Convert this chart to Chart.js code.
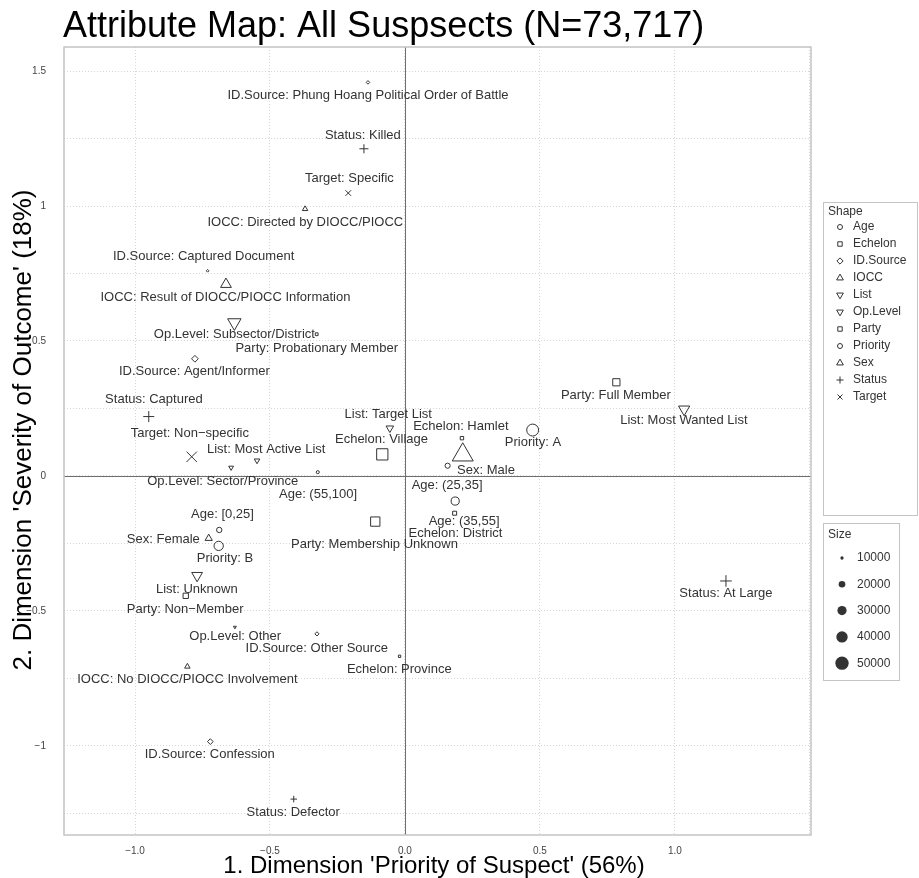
<!DOCTYPE html>
<html>
<head>
<meta charset="utf-8">
<script src="https://cdn.jsdelivr.net/npm/chart.js@4.4.1/dist/chart.umd.min.js"></script>
<style>
  body { margin: 0; background: #fff; }
  canvas { display: block; }
</style>
</head>
<body>
<canvas id="mapChart" width="919" height="878"></canvas>
<script>
// categories (one entry per attribute level)
var categories = [
    'Age: [0,25]', 'Age: (25,35]', 'Age: (35,55]', 'Age: (55,100]',
    'Echelon: Village', 'Echelon: Hamlet', 'Echelon: District', 'Echelon: Province',
    'ID.Source: Phung Hoang Political Order of Battle', 'ID.Source: Captured Document',
    'ID.Source: Agent/Informer', 'ID.Source: Other Source', 'ID.Source: Confession',
    'IOCC: Directed by DIOCC/PIOCC', 'IOCC: Result of DIOCC/PIOCC Information',
    'IOCC: No DIOCC/PIOCC Involvement',
    'List: Most Active List', 'List: Target List', 'List: Most Wanted List', 'List: Unknown',
    'Op.Level: Subsector/District', 'Op.Level: Sector/Province', 'Op.Level: Other',
    'Party: Probationary Member', 'Party: Full Member', 'Party: Membership Unknown', 'Party: Non\u2212Member',
    'Priority: A', 'Priority: B',
    'Sex: Male', 'Sex: Female',
    'Status: Killed', 'Status: Captured', 'Status: At Large', 'Status: Defector',
    'Target: Specific', 'Target: Non\u2212specific'
];
var groupOf = [
    'Age', 'Age', 'Age', 'Age',
    'Echelon', 'Echelon', 'Echelon', 'Echelon',
    'ID.Source', 'ID.Source', 'ID.Source', 'ID.Source', 'ID.Source',
    'IOCC', 'IOCC', 'IOCC',
    'List', 'List', 'List', 'List',
    'Op.Level', 'Op.Level', 'Op.Level',
    'Party', 'Party', 'Party', 'Party',
    'Priority', 'Priority',
    'Sex', 'Sex',
    'Status', 'Status', 'Status', 'Status',
    'Target', 'Target'
];
// coordinates on the two dimensions
var dim1 = [
    -0.688, 0.158, 0.186, -0.323,
    -0.084, 0.211, 0.184, -0.020,
    -0.137, -0.731, -0.778, -0.326, -0.721,
    -0.370, -0.663, -0.806,
    -0.548, -0.056, 1.034, -0.770,
    -0.632, -0.644, -0.630,
    -0.327, 0.783, -0.110, -0.812,
    0.473, -0.690,
    0.214, -0.727,
    -0.152, -0.949, 1.189, -0.412,
    -0.210, -0.790
];
var dim2 = [
    -0.200, 0.038, -0.093, 0.014,
    0.080, 0.140, -0.138, -0.668,
    1.458, 0.760, 0.434, -0.585, -0.984,
    0.989, 0.710, -0.706,
    0.057, 0.177, 0.247, -0.369,
    0.568, 0.031, -0.560,
    0.525, 0.347, -0.169, -0.444,
    0.170, -0.259,
    0.078, -0.231,
    1.212, 0.220, -0.389, -1.197,
    1.048, 0.071
];
// number of suspects per level (marker size)
var counts = [
    17800, 17000, 28000, 11000,
    50000, 13000, 15000, 9800,
    10500, 8800, 17800, 11800, 15300,
    13700, 27500, 13700,
    13700, 18500, 28800, 27500,
    36000, 12400, 8800,
    11200, 28000, 38600, 19900,
    46000, 33000,
    67400, 17700,
    21300, 26600, 28300, 15300,
    18500, 38000
];
// where each text label sits (repelled from its point)
var labelDim1 = [
    -0.676, 0.156, 0.219, -0.322,
    -0.087, 0.207, 0.187, -0.021,
    -0.137, -0.746, -0.780, -0.327, -0.723,
    -0.369, -0.665, -0.806,
    -0.514, -0.062, 1.033, -0.771,
    -0.632, -0.675, -0.629,
    -0.327, 0.781, -0.113, -0.814,
    0.474, -0.667,
    0.300, -0.895,
    -0.156, -0.930, 1.189, -0.414,
    -0.206, -0.797
];
var labelDim2 = [
    -0.144, -0.036, -0.167, -0.070,
    0.136, 0.183, -0.212, -0.716,
    1.408, 0.812, 0.388, -0.640, -1.031,
    0.941, 0.663, -0.753,
    0.099, 0.229, 0.204, -0.419,
    0.526, -0.021, -0.595,
    0.471, 0.297, -0.253, -0.493,
    0.123, -0.305,
    0.020, -0.234,
    1.260, 0.284, -0.434, -1.246,
    1.104, 0.158
];
var groups = ['Age', 'Echelon', 'ID.Source', 'IOCC', 'List', 'Op.Level', 'Party', 'Priority', 'Sex', 'Status', 'Target'];
var sizeBreaks = [10000, 20000, 30000, 40000, 50000];

var titleText = 'Attribute Map: All Suspsects (N=73,717)';
var xTitle = "1. Dimension 'Priority of Suspect' (56%)";
var yTitle = "2. Dimension 'Severity of Outcome' (18%)";

// R-like shapes mapped onto Chart.js point styles
var shapes = {
    'Age': { style: 'circle', rot: 0, k: 1 },
    'Echelon': { style: 'rect', rot: 0, k: 1.253 },
    'ID.Source': { style: 'rectRot', rot: 0, k: 1.253 },
    'IOCC': { style: 'triangle', rot: 0, k: 1.555 },
    'List': { style: 'triangle', rot: 180, k: 1.555 },
    'Op.Level': { style: 'triangle', rot: 180, k: 1.555 },
    'Party': { style: 'rect', rot: 0, k: 1.253 },
    'Priority': { style: 'circle', rot: 0, k: 1 },
    'Sex': { style: 'triangle', rot: 0, k: 1.555 },
    'Status': { style: 'cross', rot: 0, k: 1.414 },
    'Target': { style: 'crossRot', rot: 0, k: 1.414 }
};

function baseRadius(n) {
    return Math.max(0.6, 0.04045 * Math.sqrt(n) - 2.7);
}

var FONT = "'Liberation Sans', Arial, Helvetica, sans-serif";
var INK = '#333333';

var datasets = groups.map(function (g) {
    var pts = [];
    for (var i = 0; i < categories.length; i++) {
        if (groupOf[i] === g) {
            pts.push({ x: dim1[i], y: dim2[i], n: counts[i] });
        }
    }
    var sh = shapes[g];
    return {
        label: g,
        data: pts,
        pointStyle: sh.style,
        pointRotation: sh.rot,
        pointRadius: function (ctx) {
            var p = ctx.raw;
            return p ? baseRadius(p.n) * sh.k : 0;
        },
        pointBorderColor: INK,
        pointBackgroundColor: 'rgba(0,0,0,0)',
        pointBorderWidth: 1
    };
});

function fmtMinus(s) {
    return String(s).replace('-', '\u2212');
}

var decorPlugin = {
    id: 'decor',
    beforeDatasetsDraw: function (chart) {
        var ctx = chart.ctx, a = chart.chartArea;
        var xs = chart.scales.x, ys = chart.scales.y;
        ctx.save();
        ctx.strokeStyle = '#6e6e6e';
        ctx.lineWidth = 1;
        var x0 = Math.round(xs.getPixelForValue(0)) + 0.5;
        var y0 = Math.round(ys.getPixelForValue(0)) + 0.5;
        ctx.beginPath();
        ctx.moveTo(x0, a.top);
        ctx.lineTo(x0, a.bottom);
        ctx.moveTo(a.left, y0);
        ctx.lineTo(a.right, y0);
        ctx.stroke();
        ctx.restore();
    },
    afterDatasetsDraw: function (chart) {
        var ctx = chart.ctx, a = chart.chartArea;
        var xs = chart.scales.x, ys = chart.scales.y;
        ctx.save();
        ctx.font = '13px ' + FONT;
        ctx.fillStyle = INK;
        ctx.textAlign = 'center';
        ctx.textBaseline = 'middle';
        for (var i = 0; i < categories.length; i++) {
            ctx.fillText(categories[i], xs.getPixelForValue(labelDim1[i]), ys.getPixelForValue(labelDim2[i]));
        }
        // panel border
        ctx.strokeStyle = '#c4c4c4';
        ctx.lineWidth = 1.5;
        ctx.strokeRect(a.left, a.top, a.right - a.left, a.bottom - a.top);
        ctx.restore();
    },
    afterDraw: function (chart) {
        var ctx = chart.ctx, a = chart.chartArea;
        ctx.save();
        ctx.fillStyle = '#000';
        ctx.textBaseline = 'alphabetic';
        ctx.textAlign = 'left';
        ctx.font = '36px ' + FONT;
        ctx.fillText(titleText, 63, 37);

        ctx.font = '24px ' + FONT;
        ctx.textAlign = 'center';
        ctx.fillText(xTitle, 434, 873);
        ctx.save();
        ctx.font = '26px ' + FONT;
        ctx.translate(31, 430);
        ctx.rotate(-Math.PI / 2);
        ctx.fillText(yTitle, 0, 0);
        ctx.restore();

        // shape legend
        var lx = 823, top = 202;
        ctx.strokeStyle = '#c4c4c4';
        ctx.lineWidth = 1;
        ctx.strokeRect(lx + 0.5, top + 0.5, 917 - lx, 313);
        ctx.fillStyle = INK;
        ctx.textAlign = 'left';
        ctx.textBaseline = 'middle';
        ctx.font = '12px ' + FONT;
        ctx.fillText('Shape', 828, 212);
        groups.forEach(function (g, i) {
            var cy = 227 + i * 17;
            var sh = shapes[g];
            ctx.strokeStyle = INK;
            ctx.fillStyle = 'rgba(0,0,0,0)';
            Chart.helpers.drawPoint(ctx, {
                pointStyle: sh.style,
                rotation: sh.rot,
                radius: 2.5 * sh.k,
                borderWidth: 1
            }, 840, cy);
            ctx.fillStyle = INK;
            ctx.fillText(g, 853, cy);
        });

        // size legend
        var stop = 523;
        ctx.strokeStyle = '#c4c4c4';
        ctx.strokeRect(lx + 0.5, stop + 0.5, 76, 157);
        ctx.fillStyle = INK;
        ctx.fillText('Size', 828, 535);
        sizeBreaks.forEach(function (v, i) {
            var cy = 558 + i * 26.3;
            ctx.beginPath();
            ctx.arc(842, cy, baseRadius(v) + 0.3, 0, Math.PI * 2);
            ctx.fill();
            ctx.fillText(String(v), 857, cy);
        });
        ctx.restore();
    }
};

var ctx = document.getElementById('mapChart').getContext('2d');
var mapChart = new Chart(ctx, {
    type: 'scatter',
    data: { datasets: datasets },
    options: {
        responsive: false,
        animation: false,
        events: [],
        layout: { padding: { top: 47, right: 108, left: 0, bottom: 0 } },
        plugins: {
            legend: { display: false },
            tooltip: { enabled: false }
        },
        scales: {
            x: {
                type: 'linear',
                min: -1.263,
                max: 1.504,
                afterFit: function (s) { s.height = 43; },
                border: { display: false, dash: [1, 2] },
                grid: { color: '#d6d6d6', lineWidth: 1, drawTicks: false },
                ticks: {
                    stepSize: 0.5,
                    includeBounds: false,
                    autoSkip: false,
                    maxRotation: 0,
                    padding: 10,
                    color: '#444',
                    font: { family: FONT, size: 10 },
                    callback: function (v) {
                        if (v > 1.25) return '';
                        return fmtMinus(Number(v).toFixed(1));
                    }
                }
            },
            y: {
                type: 'linear',
                min: -1.33,
                max: 1.589,
                afterFit: function (s) { s.width = 64; },
                border: { display: false, dash: [1, 2] },
                grid: { color: '#d6d6d6', lineWidth: 1, drawTicks: false },
                ticks: {
                    stepSize: 0.25,
                    includeBounds: false,
                    autoSkip: false,
                    padding: 18,
                    color: '#444',
                    font: { family: FONT, size: 10 },
                    callback: function (v) {
                        var t = Math.round(v * 100) / 100;
                        if (Math.abs(t * 2 - Math.round(t * 2)) > 1e-6) return '';
                        return fmtMinus(String(t));
                    }
                }
            }
        }
    },
    plugins: [decorPlugin]
});
</script>
</body>
</html>
